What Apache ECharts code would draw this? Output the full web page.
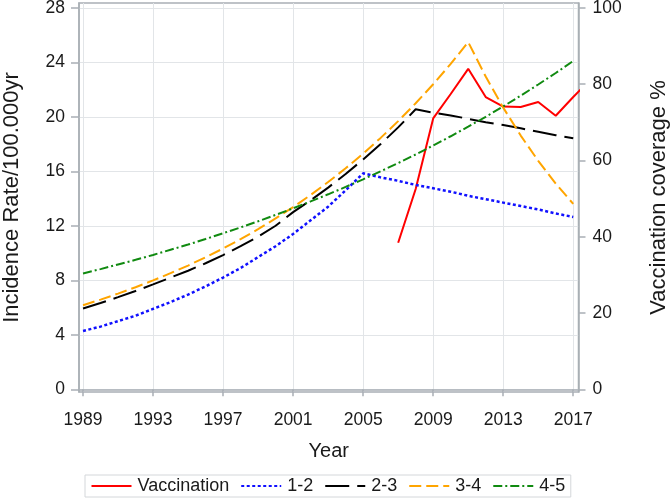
<!DOCTYPE html>
<html>
<head>
<meta charset="utf-8">
<script src="https://cdn.jsdelivr.net/npm/echarts@6/dist/echarts.min.js"></script>
<style>html,body{margin:0;padding:0;background:#fff;}#c{width:671px;height:499px;}</style>
</head>
<body>
<div id="c"></div>
<script>
// ---- data ----
const years = [1989,1990,1991,1992,1993,1994,1995,1996,1997,1998,1999,2000,2001,2002,2003,2004,2005,2006,2007,2008,2009,2010,2011,2012,2013,2014,2015,2016,2017];
const rate12 = [4.28,4.6,5.0,5.4,5.9,6.4,6.95,7.55,8.2,8.9,9.7,10.5,11.4,12.4,13.4,14.6,15.85,15.55,15.3,15.0,14.75,14.5,14.2,13.95,13.7,13.45,13.2,12.9,12.65];
const rate23 = [5.93,6.33,6.76,7.21,7.7,8.2,8.7,9.25,9.85,10.5,11.2,12.0,13.0,13.87,14.8,15.8,16.87,18.0,19.22,20.55,20.3,20.1,19.85,19.6,19.4,19.15,18.9,18.65,18.42];
const rate34 = [6.17,6.58,7.02,7.49,7.99,8.52,9.08,9.69,10.33,11.02,11.75,12.54,13.37,14.26,15.21,16.22,17.3,18.45,19.68,20.99,22.39,23.88,25.48,22.95,20.67,18.62,16.77,15.1,13.6];
const rate45 = [8.5,8.82,9.16,9.5,9.86,10.24,10.62,11.03,11.45,11.88,12.33,12.8,13.28,13.79,14.31,14.85,15.41,16.0,16.6,17.23,17.89,18.57,19.27,20.0,20.76,21.55,22.37,23.21,24.1];
const vacYears = [2007,2008,2009,2010,2011,2012,2013,2014,2015,2016,2017,2018];
const vacCoverage = [38.4,52.5,71.0,77.4,84.0,76.6,74.1,74.0,75.3,71.7,76.6,81.3];
const xTicks = [1989,1993,1997,2001,2005,2009,2013,2017];
const yLeftTicks = [0,4,8,12,16,20,24,28];
const yRightTicks = [0,20,40,60,80,100];

const pairs = (xs, ys) => xs.map((x, i) => [x, ys[i]]);
const FONT = 'Liberation Sans, Arial, Helvetica, sans-serif';
const TXT = '#1a1a1a';
const FRAME = '#a9afb5';
const GRIDC = '#e2e5e8';

const chart = echarts.init(document.getElementById('c'), null, {renderer: 'canvas'});
chart.setOption({
  animation: false,
  backgroundColor: '#fff',
  textStyle: {fontFamily: FONT},
  grid: {left: 79, right: 92.5, top: 3, bottom: 107, show: true, borderColor: FRAME, borderWidth: 1.5,
         backgroundColor: '#fff', containLabel: false, outerBoundsMode: 'none'},
  xAxis: {
    type: 'value', min: 1988.77, max: 2017.3,
    name: 'Year', nameLocation: 'middle', nameGap: 49, nameMoveOverlap: false,
    nameTextStyle: {fontSize: 20, color: TXT, fontFamily: FONT},
    axisLine: {show: true, lineStyle: {color: FRAME, width: 1.5}},
    axisTick: {show: true, length: 7, customValues: xTicks, lineStyle: {color: FRAME, width: 1.5}},
    axisLabel: {customValues: xTicks, fontSize: 17.5, color: TXT, margin: 19, fontFamily: FONT,
                formatter: v => String(v)},
    splitLine: {show: true, lineStyle: {color: GRIDC, width: 1}}
  },
  yAxis: [{
    type: 'value', min: -0.2, max: 28.35, position: 'left',
    name: 'Incidence Rate/100.000yr', nameLocation: 'middle', nameGap: 56, nameRotate: 90, nameMoveOverlap: false,
    nameTextStyle: {fontSize: 22, color: TXT, fontFamily: FONT},
    axisLine: {show: true, lineStyle: {color: FRAME, width: 1.5}},
    axisTick: {show: true, length: 8, customValues: yLeftTicks, lineStyle: {color: FRAME, width: 1.5}},
    axisLabel: {customValues: yLeftTicks, fontSize: 17.5, color: TXT, margin: 14, fontFamily: FONT,
                formatter: v => String(v)},
    splitLine: {show: true, lineStyle: {color: GRIDC, width: 1}}
  }, {
    type: 'value', min: -0.714, max: 101.25, position: 'right',
    name: 'Vaccination coverage %', nameLocation: 'middle', nameGap: 69, nameRotate: 90, nameMoveOverlap: false,
    nameTextStyle: {fontSize: 22, color: TXT, fontFamily: FONT},
    axisLine: {show: true, lineStyle: {color: FRAME, width: 1.5}},
    axisTick: {show: true, length: 7, customValues: yRightTicks, lineStyle: {color: FRAME, width: 1.5}},
    axisLabel: {customValues: yRightTicks, fontSize: 17.5, color: TXT, margin: 14, fontFamily: FONT,
                formatter: v => String(v)},
    splitLine: {show: false}
  }],
  legend: {
    left: 85, top: 475, orient: 'horizontal',
    padding: [2, 5.5, 2, 5.5], itemGap: 11, itemWidth: 40, itemHeight: 14,
    borderColor: '#d4d7da', borderWidth: 1,
    itemStyle: {opacity: 0},
    textStyle: {fontSize: 18, color: TXT, fontFamily: FONT, padding: [0, 0, 0, 1]},
    data: ['Vaccination', '1-2', '2-3', '3-4', '4-5']
  },
  series: [
    {name: 'Vaccination', type: 'line', yAxisIndex: 1, symbol: 'none', data: pairs(vacYears, vacCoverage),
     color: '#ff0000', lineStyle: {color: '#ff0000', width: 2}},
    {name: '1-2', type: 'line', symbol: 'none', data: pairs(years, rate12),
     color: '#1010ff', lineStyle: {color: '#1010ff', width: 2.5, type: [3, 2.5]}},
    {name: '2-3', type: 'line', symbol: 'none', data: pairs(years, rate23),
     color: '#000000', lineStyle: {color: '#000000', width: 2, type: [24, 8]}},
    {name: '3-4', type: 'line', symbol: 'none', data: pairs(years, rate34),
     color: '#ffa500', lineStyle: {color: '#ffa500', width: 2, type: [12, 5]}},
    {name: '4-5', type: 'line', symbol: 'none', data: pairs(years, rate45),
     color: '#108a10', lineStyle: {color: '#108a10', width: 2, type: [9, 3, 2, 3]}}
  ]
});
</script>
</body>
</html>
